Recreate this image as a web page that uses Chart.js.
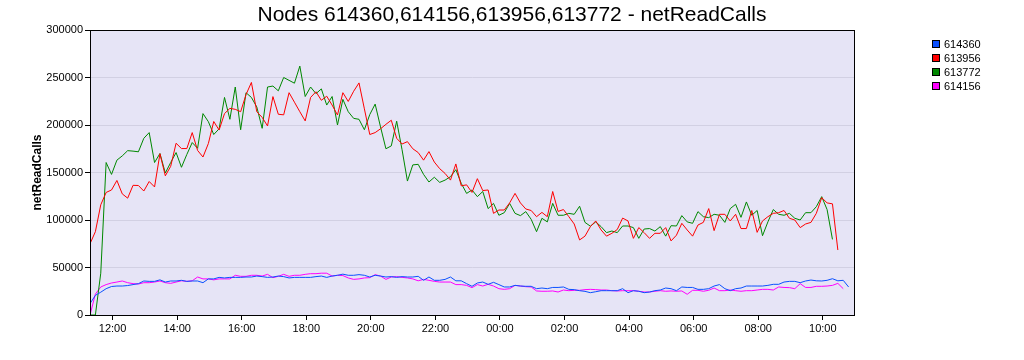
<!DOCTYPE html>
<html>
<head>
<meta charset="utf-8">
<title>netReadCalls</title>
<script src="https://cdn.jsdelivr.net/npm/chart.js@4.4.1/dist/chart.umd.min.js"></script>
<style>
    body { margin: 0; background: #fff; }
    #wrap { width: 1024px; height: 360px; }
</style>
</head>
<body>
<div id="wrap"><canvas id="chart-area" width="1024" height="360"></canvas></div>
<script>

/*=============================================
DATA (samples every 10 min, first one at 11:18)
=============================================*/

const startHour = 11.3
const stepHours = 1 / 6

const hourTicks = [12, 14, 16, 18, 20, 22, 24, 26, 28, 30, 32, 34]

const yTicks = [0, 50000, 100000, 150000, 200000, 250000, 300000]

const chartTitle = 'Nodes 614360,614156,613956,613772 - netReadCalls'

const nodes = ['614360', '613956', '613772', '614156']

const colors = ['#0a50ff', '#ff0000', '#008800', '#ff00ff']

const node614360 = [
    12000, 20700, 24000, 27700, 30000, 30500, 30500, 31000, 32000, 33000,
    35800, 35400, 35400, 37000, 34700, 35800, 35800, 36500, 35400, 35800,
    35800, 34000, 38000, 38000, 39600, 39000, 39600, 39600, 39600, 40000,
    40000, 41000, 40400, 39600, 40000, 41000, 40400, 39000, 39600, 39600,
    39600, 39600, 40400, 41000, 39600, 41000, 41800, 43000, 41800, 41800,
    42500, 41800, 40000, 41800, 41000, 40000, 40400, 39600, 40400, 40000,
    40000, 40700, 36500, 40000, 36500, 36500, 37500, 40000, 36000, 36000,
    33000, 30200, 33700, 34700, 32300, 34400, 32000, 29500, 29500, 31200,
    30500, 30200, 30200, 27700, 28400, 27700, 29000, 29000, 29500, 27000,
    26700, 25600, 24900, 23500, 24500, 25600, 25600, 25600, 25600, 27700,
    23500, 25600, 25000, 23500, 24200, 25600, 26300, 28400, 27700, 25600,
    29500, 29000, 29000, 27000, 27000, 27700, 30500, 32000, 27700, 25600,
    27700, 28400, 30500, 30500, 30500, 30500, 31200, 32300, 32300, 34700,
    35400, 35400, 34000, 35800, 36800, 36000, 35800, 36500, 38200, 36000,
    36500, 29500
]

const node613956 = [
    75000, 87700, 116000, 129000, 131600, 141600, 127500, 123000, 136500, 136300,
    130500, 140500, 134800, 169700, 146500, 156500, 180800, 175200, 175200, 192000,
    173200, 166300, 180500, 203700, 194700, 212000, 217500, 216500, 214000, 232000,
    244800, 214000, 208000, 199000, 229900, 211300, 210700, 234000, 224000, 214000,
    204300, 229000, 235000, 226000, 230300, 221000, 210500, 234000, 224800, 235500,
    244300, 217000, 190000, 192000, 196000, 200700, 205000, 186000, 180000, 182500,
    175000, 171000, 163000, 172000, 161000, 154000, 149000, 142000, 159000, 136000,
    137000, 129000, 143500, 131000, 131600, 107000, 110500, 110500, 118000, 128000,
    118000, 111600, 110000, 103500, 108000, 103500, 130000, 109000, 111000, 103500,
    95800, 79000, 83000, 93000, 99000, 89500, 83000, 86000, 90000, 102000,
    99000, 80700, 92000, 86700, 80700, 86000, 86000, 92000, 78000, 84000,
    96500, 89500, 83000, 94700, 97500, 112000, 88800, 106000, 106000, 99000,
    106000, 91000, 91000, 110000, 87000, 99000, 103500, 107000, 107700, 110000,
    101800, 100000, 92000, 95800, 97500, 107000, 123500, 118000, 117000, 68400
]

const node613772 = [
    0, 0, 44000, 160500, 148000, 163000, 167500, 173000, 172500, 171800,
    186000, 192000, 160500, 170000, 149500, 160500, 171000, 155500, 169000, 181500,
    175500, 212000, 203500, 190000, 196000, 229000, 206000, 240000, 195000, 234000,
    229000, 219000, 196500, 240000, 241000, 236000, 250000, 247000, 244000, 262000,
    230000, 240000, 233000, 238000, 221000, 230000, 200000, 227000, 214000, 207000,
    206000, 195000, 211000, 222000, 198000, 175000, 178000, 204000, 174000, 141000,
    158000, 158600, 148000, 140000, 145000, 139600, 142000, 145600, 153000, 138600,
    128000, 131600, 124600, 130000, 112000, 117500, 105000, 107700, 117500, 107000,
    104600, 108800, 100700, 87700, 101800, 98000, 117500, 105000, 105000, 107000,
    106000, 114500, 97500, 93500, 98000, 93000, 86700, 88400, 86700, 93700,
    93700, 92000, 80700, 90500, 91000, 88400, 93000, 83000, 94000, 93700,
    104600, 98000, 96500, 108800, 103500, 102500, 106000, 105000, 97500, 112000,
    116500, 102800, 119000, 105000, 110000, 83500, 98000, 111000, 106000, 105000,
    107000, 101800, 100000, 107700, 107700, 114000, 124600, 111000, 79600
]

const node614156 = [
    0, 22000, 29500, 32000, 33700, 34700, 35800, 34000, 33000, 32600,
    34000, 34000, 34700, 35800, 34000, 33300, 34700, 36000, 35400, 36000,
    40000, 38000, 38000, 37000, 38000, 38000, 38000, 41800, 40700, 40700,
    41800, 41800, 41000, 42800, 39300, 40700, 42800, 40700, 41800, 41800,
    42800, 43500, 43500, 44000, 44000, 41000, 41800, 41500, 39000, 37500,
    38000, 39000, 39300, 42500, 41000, 37500, 40000, 40400, 39600, 39000,
    38000, 36000, 37500, 36500, 35400, 34700, 34700, 34700, 32000, 32000,
    31200, 28800, 32000, 30500, 32300, 30500, 27700, 27000, 27700, 31200,
    30500, 29800, 29500, 25300, 25000, 25000, 25300, 24200, 26300, 25600,
    26000, 26000, 26700, 27000, 26700, 26300, 26300, 25600, 25300, 25600,
    25600, 25600, 25000, 24200, 24200, 25000, 25600, 25000, 25300, 25000,
    25300, 21800, 26000, 26000, 25000, 26000, 28400, 25600, 25600, 26300,
    25600, 25000, 25600, 25600, 26300, 27000, 27000, 26300, 29500, 29000,
    28800, 27700, 33000, 29000, 29000, 30200, 30200, 30500, 31200, 33300,
    27700
]

const series = [node614360, node613956, node613772, node614156]

/*=============================================
PLUGINS
=============================================*/

const fontFamily = '"Liberation Sans", Arial, sans-serif'

const plotFrame = {
    id: 'plotFrame',
    beforeDraw: chart => {
        let {ctx, chartArea: a} = chart
        ctx.save()
        ctx.fillStyle = '#e6e4f6'
        ctx.fillRect(a.left, a.top, a.right - a.left, a.bottom - a.top)
        ctx.restore()
    },
    afterDraw: chart => {
        let {ctx, chartArea: a} = chart
        ctx.save()
        ctx.strokeStyle = '#000'
        ctx.lineWidth = 1
        ctx.strokeRect(Math.round(a.left) + 0.5, Math.round(a.top) + 0.5, Math.round(a.right - a.left), Math.round(a.bottom - a.top))

        // title, centred on the whole picture
        ctx.fillStyle = '#000'
        ctx.font = '21px ' + fontFamily
        ctx.textAlign = 'center'
        ctx.textBaseline = 'middle'
        ctx.fillText(chartTitle, chart.width / 2, 15.5)

        // legend on the right
        ctx.font = '11px ' + fontFamily
        ctx.textAlign = 'left'
        nodes.forEach((n, i) => {
            let y = 44 + i * 14
            ctx.fillStyle = colors[i]
            ctx.fillRect(932, y - 4, 8, 8)
            ctx.strokeStyle = '#000'
            ctx.strokeRect(932.5, y - 3.5, 7, 7)
            ctx.fillStyle = '#000'
            ctx.fillText(n, 944, y + 0.5)
        })
        ctx.restore()
    }
}

/*=============================================
CHART
=============================================*/

const toPoints = values => values.map((v, i) => ({x: startHour + i * stepHours, y: v}))

const hourLabel = v => String(v % 24).padStart(2, '0') + ':00'

let config = {
    type: 'line',
    data: {
        datasets: series.map((s, i) => ({
            label: nodes[i],
            data: toPoints(s),
            borderColor: colors[i],
            backgroundColor: colors[i],
            borderWidth: 1,
            pointRadius: 0,
            tension: 0,
            fill: false
        }))
    },
    options: {
        responsive: false,
        animation: false,
        layout: { padding: { left: 0, right: 170, top: 30, bottom: 0 } },
        plugins: {
            legend: { display: false },
            tooltip: { enabled: false },
            title: { display: false }
        },
        scales: {
            x: {
                type: 'linear',
                min: startHour,
                max: 34.967,
                afterBuildTicks: axis => { axis.ticks = hourTicks.map(v => ({value: v})) },
                afterFit: axis => { axis.height = 45 },
                grid: { drawOnChartArea: false, drawTicks: true, tickLength: 5, tickColor: '#000' },
                border: { display: true, color: '#000' },
                ticks: {
                    autoSkip: false,
                    maxRotation: 0,
                    padding: 2,
                    color: '#000',
                    font: { family: fontFamily, size: 11 },
                    callback: v => hourLabel(v)
                }
            },
            y: {
                min: 0,
                max: 300000,
                afterBuildTicks: axis => { axis.ticks = yTicks.map(v => ({value: v})) },
                afterFit: axis => { axis.width = 90 },
                grid: { color: '#d2d0e3', tickLength: 5, tickColor: '#000' },
                border: { display: true, color: '#000' },
                ticks: {
                    padding: 2,
                    color: '#000',
                    font: { family: fontFamily, size: 11 },
                    callback: v => String(v)
                },
                title: {
                    display: true,
                    text: 'netReadCalls',
                    color: '#000',
                    font: { family: fontFamily, size: 12, weight: 'bold' },
                    padding: { top: 30, bottom: 0 }
                }
            }
        }
    },
    plugins: [plotFrame]
}

let ctx = document.getElementById('chart-area').getContext('2d')
window.myLine = new Chart(ctx, config)

</script>
</body>
</html>
